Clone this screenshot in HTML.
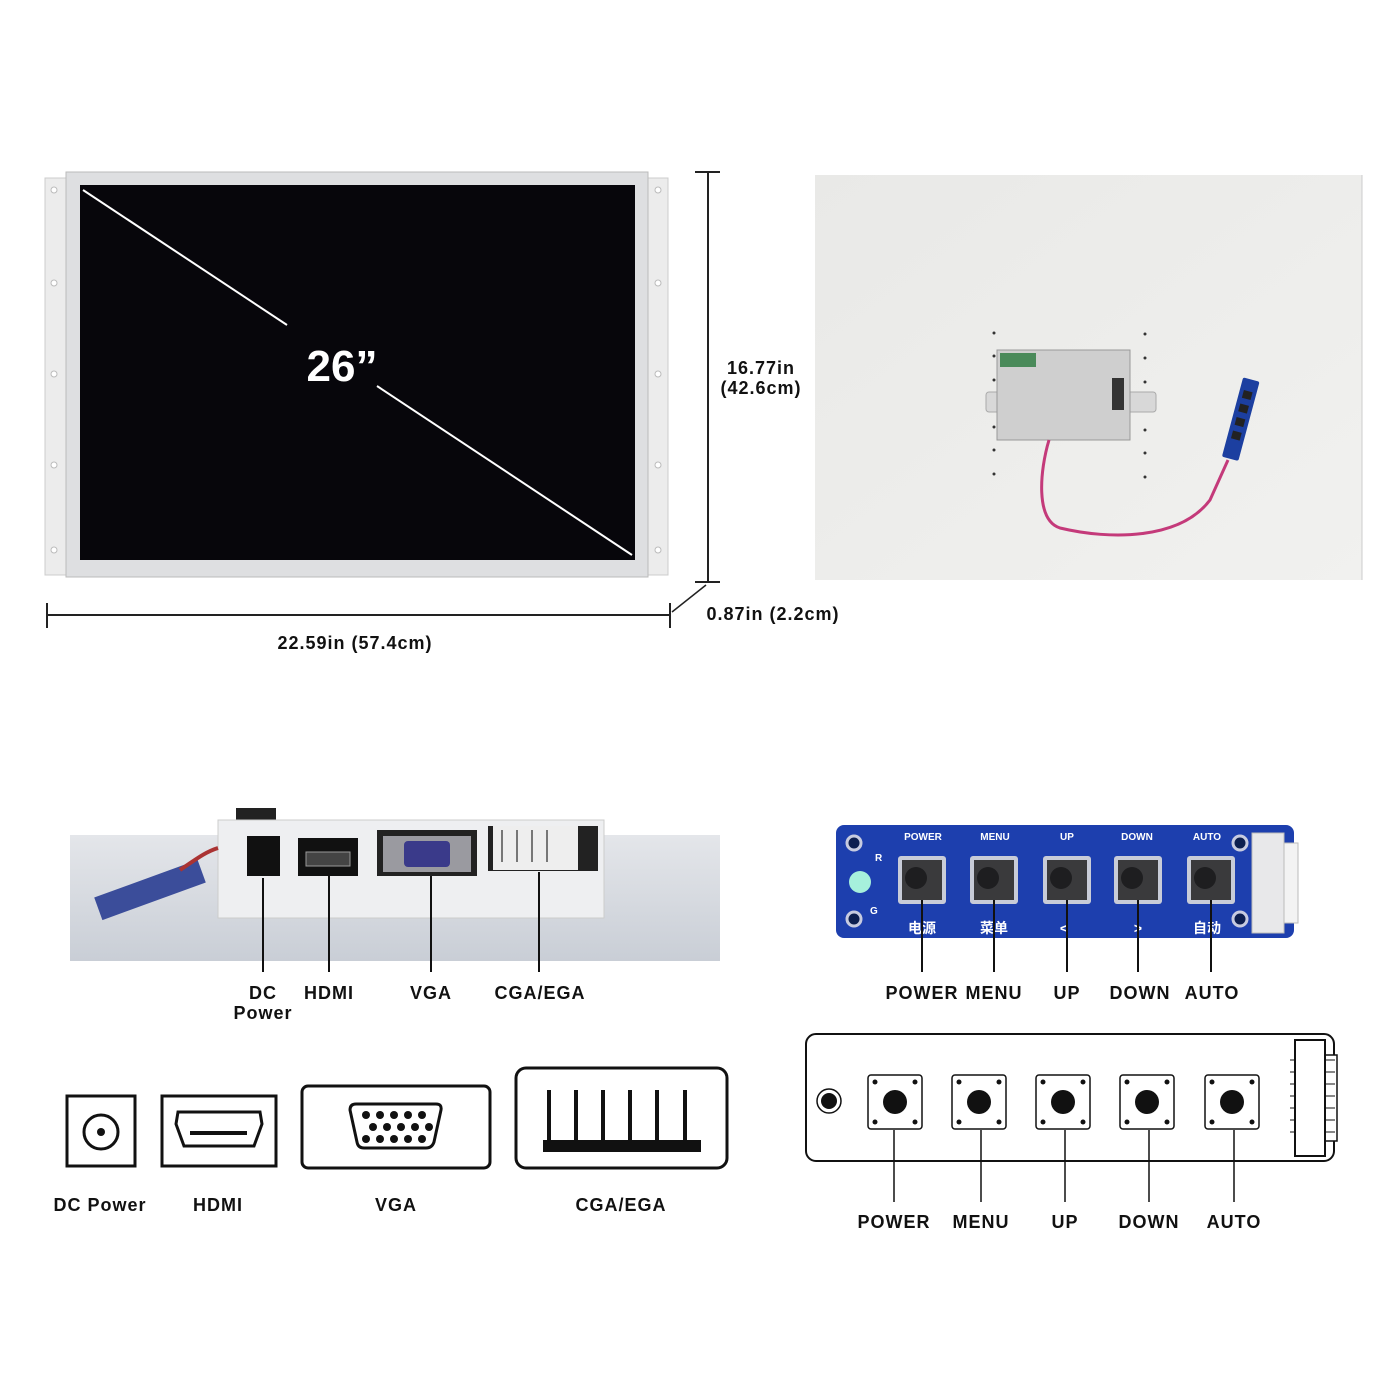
<!DOCTYPE html>
<html><head><meta charset="utf-8"><style>
html,body{margin:0;padding:0;background:#fff;}
svg{display:block}
text{font-family:"Liberation Sans","Noto Sans CJK SC",sans-serif;font-weight:bold;}
.lb{font-size:18px;letter-spacing:1px;fill:#111;text-anchor:middle}
</style></head><body>
<svg width="1400" height="1400" viewBox="0 0 1400 1400" xmlns="http://www.w3.org/2000/svg">
<defs>
<linearGradient id="bk" x1="0" y1="0" x2="1" y2="1"><stop offset="0" stop-color="#e9e9e7"/><stop offset="1" stop-color="#f1f1ef"/></linearGradient>
<linearGradient id="ph" x1="0" y1="0" x2="0" y2="1"><stop offset="0" stop-color="#e4e6ea"/><stop offset="1" stop-color="#c9ced6"/></linearGradient>
</defs>
<rect x="45" y="178" width="24" height="397" fill="#ececec" stroke="#ccc"/>
<rect x="646" y="178" width="22" height="397" fill="#ececec" stroke="#ccc"/>
<g fill="#fff" stroke="#bbb"><circle cx="54" cy="190" r="3"/><circle cx="54" cy="283" r="3"/><circle cx="54" cy="374" r="3"/><circle cx="54" cy="465" r="3"/><circle cx="54" cy="550" r="3"/>
<circle cx="658" cy="190" r="3"/><circle cx="658" cy="283" r="3"/><circle cx="658" cy="374" r="3"/><circle cx="658" cy="465" r="3"/><circle cx="658" cy="550" r="3"/></g>
<rect x="66" y="172" width="582" height="405" fill="#dedfe1" stroke="#bbb"/>
<rect x="80" y="185" width="555" height="375" fill="#07060b"/>
<line x1="83" y1="190" x2="287" y2="325" stroke="#fff" stroke-width="2"/>
<line x1="377" y1="386" x2="632" y2="555" stroke="#fff" stroke-width="2"/>
<text x="342" y="381" font-size="44" fill="#fff" text-anchor="middle">26”</text>
<g stroke="#222" stroke-width="2">
<line x1="708" y1="172" x2="708" y2="582"/><line x1="695" y1="172" x2="720" y2="172"/><line x1="695" y1="582" x2="720" y2="582"/>
<line x1="47" y1="615" x2="670" y2="615"/><line x1="47" y1="603" x2="47" y2="628"/><line x1="670" y1="603" x2="670" y2="628"/>
<line x1="672" y1="612" x2="706" y2="585" stroke-width="1.5"/></g>
<text x="761" y="374" class="lb">16.77in</text>
<text x="761" y="394" class="lb">(42.6cm)</text>
<text x="355" y="649" class="lb">22.59in (57.4cm)</text>
<text x="773" y="620" class="lb">0.87in (2.2cm)</text>
<rect x="815" y="175" width="547" height="405" fill="url(#bk)"/>
<line x1="1362" y1="175" x2="1362" y2="580" stroke="#ccc"/>
<g fill="#333"><circle cx="994" cy="333" r="1.5"/><circle cx="994" cy="356" r="1.5"/><circle cx="994" cy="380" r="1.5"/><circle cx="994" cy="427" r="1.5"/><circle cx="994" cy="450" r="1.5"/><circle cx="994" cy="474" r="1.5"/>
<circle cx="1145" cy="334" r="1.5"/><circle cx="1145" cy="358" r="1.5"/><circle cx="1145" cy="382" r="1.5"/><circle cx="1145" cy="430" r="1.5"/><circle cx="1145" cy="453" r="1.5"/><circle cx="1145" cy="477" r="1.5"/></g>
<rect x="986" y="392" width="170" height="20" rx="3" fill="#d8d8d8" stroke="#aaa"/>
<rect x="997" y="350" width="133" height="90" fill="#cfcfcf" stroke="#999"/>
<rect x="1000" y="353" width="36" height="14" fill="#4a8a5a"/>
<rect x="1112" y="378" width="12" height="32" fill="#333"/>
<path d="M1049 440 C1040 470,1035 520,1060 528 C1110 540,1180 540,1210 500 L1228 460" fill="none" stroke="#c43a7a" stroke-width="3"/>
<g transform="rotate(15 1240 420)"><rect x="1232" y="378" width="17" height="82" rx="2" fill="#1c3fa0"/>
<g fill="#222"><rect x="1236" y="390" width="9" height="8"/><rect x="1236" y="404" width="9" height="8"/><rect x="1236" y="418" width="9" height="8"/><rect x="1236" y="432" width="9" height="8"/></g></g>
<rect x="70" y="835" width="650" height="126" fill="url(#ph)"/>
<rect x="236" y="808" width="40" height="12" fill="#222"/>
<rect x="218" y="820" width="386" height="98" fill="#eeeff1" stroke="#ccc"/>
<rect x="247" y="836" width="33" height="40" fill="#111"/>
<rect x="298" y="838" width="60" height="38" fill="#111"/><rect x="306" y="852" width="44" height="14" fill="#444" stroke="#999"/>
<rect x="377" y="830" width="100" height="46" fill="#222"/><rect x="383" y="836" width="88" height="36" fill="#9a9aa0"/><rect x="404" y="841" width="46" height="26" rx="4" fill="#3a3a8a"/>
<rect x="488" y="826" width="110" height="45" fill="#222"/><rect x="493" y="826" width="85" height="44" fill="#eee"/>
<g stroke="#777" stroke-width="2"><line x1="502" y1="830" x2="502" y2="862"/><line x1="517" y1="830" x2="517" y2="862"/><line x1="532" y1="830" x2="532" y2="862"/><line x1="547" y1="830" x2="547" y2="862"/></g>
<g transform="rotate(-20 150 890)"><rect x="95" y="878" width="110" height="24" fill="#3b4d9a"/></g>
<path d="M180 870 C195 860,205 852,218 848" stroke="#a33" stroke-width="4" fill="none"/>
<g stroke="#111" stroke-width="2"><line x1="263" y1="878" x2="263" y2="972"/><line x1="329" y1="876" x2="329" y2="972"/><line x1="431" y1="876" x2="431" y2="972"/><line x1="539" y1="872" x2="539" y2="972"/></g>
<text x="263" y="999" class="lb">DC</text><text x="263" y="1019" class="lb">Power</text>
<text x="329" y="999" class="lb">HDMI</text><text x="431" y="999" class="lb">VGA</text><text x="540" y="999" class="lb">CGA/EGA</text>
<g fill="none" stroke="#111" stroke-width="3">
<rect x="67" y="1096" width="68" height="70"/><circle cx="101" cy="1132" r="17"/>
<rect x="162" y="1096" width="114" height="70"/>
<path d="M176 1124 L178 1112 L260 1112 L262 1124 L254 1146 L184 1146 Z"/>
<rect x="302" y="1086" width="188" height="82" rx="6"/>
<path d="M350 1110 Q350 1104 356 1104 L436 1104 Q442 1104 441 1110 L434 1142 Q432 1148 426 1148 L364 1148 Q358 1148 357 1142 Z"/>
<rect x="516" y="1068" width="211" height="100" rx="10"/>
</g>
<circle cx="101" cy="1132" r="4" fill="#111"/>
<line x1="190" y1="1133" x2="247" y2="1133" stroke="#111" stroke-width="4"/>
<g fill="#111"><circle cx="366" cy="1115" r="4"/><circle cx="380" cy="1115" r="4"/><circle cx="394" cy="1115" r="4"/><circle cx="408" cy="1115" r="4"/><circle cx="422" cy="1115" r="4"/>
<circle cx="373" cy="1127" r="4"/><circle cx="387" cy="1127" r="4"/><circle cx="401" cy="1127" r="4"/><circle cx="415" cy="1127" r="4"/><circle cx="429" cy="1127" r="4"/>
<circle cx="366" cy="1139" r="4"/><circle cx="380" cy="1139" r="4"/><circle cx="394" cy="1139" r="4"/><circle cx="408" cy="1139" r="4"/><circle cx="422" cy="1139" r="4"/>
<rect x="543" y="1140" width="158" height="12"/>
<rect x="547" y="1090" width="4" height="52"/><rect x="574" y="1090" width="4" height="52"/><rect x="601" y="1090" width="4" height="52"/><rect x="628" y="1090" width="4" height="52"/><rect x="655" y="1090" width="4" height="52"/><rect x="683" y="1090" width="4" height="52"/></g>
<text x="100" y="1211" class="lb">DC Power</text><text x="218" y="1211" class="lb">HDMI</text><text x="396" y="1211" class="lb">VGA</text><text x="621" y="1211" class="lb">CGA/EGA</text>
<rect x="836" y="825" width="458" height="113" rx="8" fill="#1d3fae"/>
<rect x="1252" y="833" width="32" height="100" fill="#e8e8ea" stroke="#bbb"/><rect x="1284" y="843" width="14" height="80" fill="#f3f3f3" stroke="#bbb"/>
<g fill="#0d1f50" stroke="#c7cbe0" stroke-width="3"><circle cx="854" cy="843" r="7"/><circle cx="854" cy="919" r="7"/><circle cx="1240" cy="843" r="7"/><circle cx="1240" cy="919" r="7"/></g>
<circle cx="860" cy="882" r="11" fill="#a6f0dc"/>
<text x="875" y="861" font-size="10" fill="#fff" font-family="Liberation Serif">R</text><text x="870" y="914" font-size="10" fill="#fff" font-family="Liberation Serif">G</text>
<g font-size="10" fill="#fff" text-anchor="middle">
<text x="923" y="840">POWER</text><text x="995" y="840">MENU</text><text x="1067" y="840">UP</text><text x="1137" y="840">DOWN</text><text x="1207" y="840">AUTO</text></g>
<g fill="#c8ccd8"><rect x="898" y="856" width="48" height="48" rx="3"/><rect x="970" y="856" width="48" height="48" rx="3"/><rect x="1043" y="856" width="48" height="48" rx="3"/><rect x="1114" y="856" width="48" height="48" rx="3"/><rect x="1187" y="856" width="48" height="48" rx="3"/></g>
<g fill="#3a3a3c"><rect x="902" y="860" width="40" height="40"/><rect x="974" y="860" width="40" height="40"/><rect x="1047" y="860" width="40" height="40"/><rect x="1118" y="860" width="40" height="40"/><rect x="1191" y="860" width="40" height="40"/></g>
<g fill="#1e1e20"><circle cx="916" cy="878" r="11"/><circle cx="988" cy="878" r="11"/><circle cx="1061" cy="878" r="11"/><circle cx="1132" cy="878" r="11"/><circle cx="1205" cy="878" r="11"/></g>
<g font-size="14" fill="#fff" text-anchor="middle" font-weight="normal"><text x="922" y="933">电源</text><text x="994" y="933">菜单</text><text x="1064" y="933">&lt;</text><text x="1138" y="933">&gt;</text><text x="1207" y="933">自动</text></g>
<g stroke="#111" stroke-width="2"><line x1="922" y1="900" x2="922" y2="972"/><line x1="994" y1="900" x2="994" y2="972"/><line x1="1067" y1="900" x2="1067" y2="972"/><line x1="1138" y1="900" x2="1138" y2="972"/><line x1="1211" y1="900" x2="1211" y2="972"/></g>
<text x="922" y="999" class="lb">POWER</text><text x="994" y="999" class="lb">MENU</text><text x="1067" y="999" class="lb">UP</text><text x="1140" y="999" class="lb">DOWN</text><text x="1212" y="999" class="lb">AUTO</text>
<rect x="806" y="1034" width="528" height="127" rx="10" fill="none" stroke="#111" stroke-width="2"/>
<rect x="1325" y="1055" width="12" height="86" fill="#fff" stroke="#111" stroke-width="1.5"/>
<g stroke="#111"><line x1="1290" y1="1060" x2="1335" y2="1060"/><line x1="1290" y1="1072" x2="1335" y2="1072"/><line x1="1290" y1="1084" x2="1335" y2="1084"/><line x1="1290" y1="1096" x2="1335" y2="1096"/><line x1="1290" y1="1108" x2="1335" y2="1108"/><line x1="1290" y1="1120" x2="1335" y2="1120"/><line x1="1290" y1="1132" x2="1335" y2="1132"/></g>
<rect x="1295" y="1040" width="30" height="116" fill="#fff" stroke="#111" stroke-width="2"/>
<circle cx="829" cy="1101" r="12" fill="none" stroke="#111" stroke-width="1.5"/><circle cx="829" cy="1101" r="8" fill="#111"/>
<g fill="#fff" stroke="#111" stroke-width="1.5"><rect x="868" y="1075" width="54" height="54" rx="3"/><rect x="952" y="1075" width="54" height="54" rx="3"/><rect x="1036" y="1075" width="54" height="54" rx="3"/><rect x="1120" y="1075" width="54" height="54" rx="3"/><rect x="1205" y="1075" width="54" height="54" rx="3"/></g>
<g fill="#111">
<circle cx="895" cy="1102" r="12"/><circle cx="979" cy="1102" r="12"/><circle cx="1063" cy="1102" r="12"/><circle cx="1147" cy="1102" r="12"/><circle cx="1232" cy="1102" r="12"/>
<circle cx="875" cy="1082" r="2.5"/><circle cx="915" cy="1082" r="2.5"/><circle cx="875" cy="1122" r="2.5"/><circle cx="915" cy="1122" r="2.5"/>
<circle cx="959" cy="1082" r="2.5"/><circle cx="999" cy="1082" r="2.5"/><circle cx="959" cy="1122" r="2.5"/><circle cx="999" cy="1122" r="2.5"/>
<circle cx="1043" cy="1082" r="2.5"/><circle cx="1083" cy="1082" r="2.5"/><circle cx="1043" cy="1122" r="2.5"/><circle cx="1083" cy="1122" r="2.5"/>
<circle cx="1127" cy="1082" r="2.5"/><circle cx="1167" cy="1082" r="2.5"/><circle cx="1127" cy="1122" r="2.5"/><circle cx="1167" cy="1122" r="2.5"/>
<circle cx="1212" cy="1082" r="2.5"/><circle cx="1252" cy="1082" r="2.5"/><circle cx="1212" cy="1122" r="2.5"/><circle cx="1252" cy="1122" r="2.5"/></g>
<g stroke="#111" stroke-width="1.5"><line x1="894" y1="1130" x2="894" y2="1202"/><line x1="981" y1="1130" x2="981" y2="1202"/><line x1="1065" y1="1130" x2="1065" y2="1202"/><line x1="1149" y1="1130" x2="1149" y2="1202"/><line x1="1234" y1="1130" x2="1234" y2="1202"/></g>
<text x="894" y="1228" class="lb">POWER</text><text x="981" y="1228" class="lb">MENU</text><text x="1065" y="1228" class="lb">UP</text><text x="1149" y="1228" class="lb">DOWN</text><text x="1234" y="1228" class="lb">AUTO</text>
</svg>
</body></html>
